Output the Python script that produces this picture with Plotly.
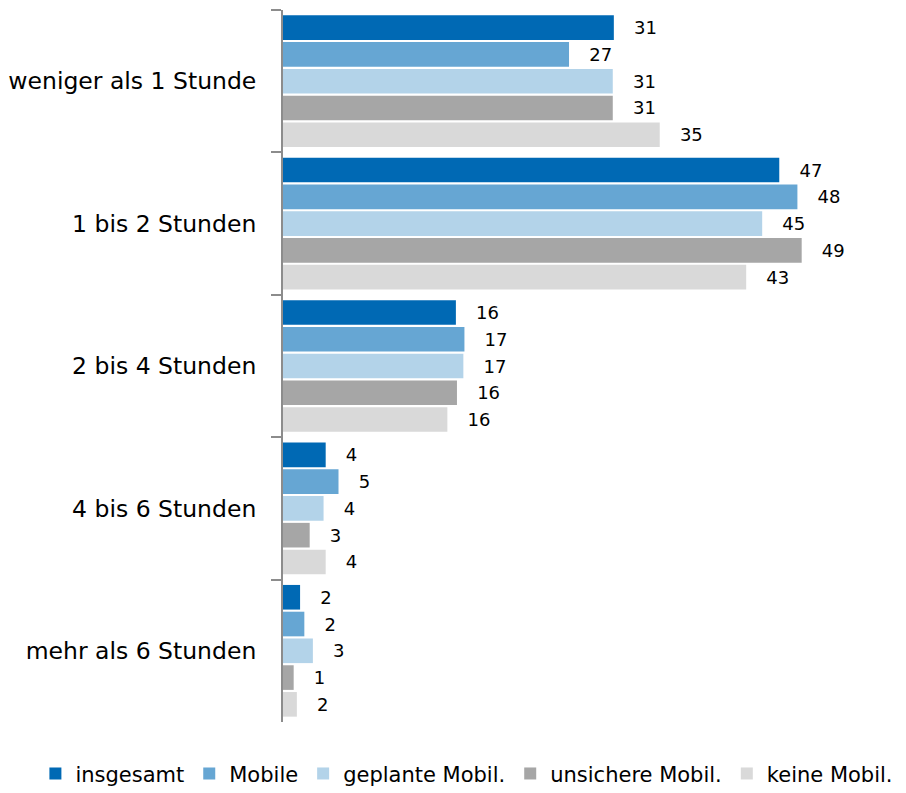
import plotly.graph_objects as go

# ==============================
# Data
# ==============================

categories = ["weniger als 1 Stunde", "1 bis 2 Stunden", "2 bis 4 Stunden",
              "4 bis 6 Stunden", "mehr als 6 Stunden"]

series_names = ["insgesamt", "Mobile", "geplante Mobil.", "unsichere Mobil.", "keine Mobil."]
series_colors = ["#0069b4", "#66a6d3", "#b3d3e9", "#a6a6a6", "#d9d9d9"]

# bar lengths and the rounded labels shown next to them
insgesamt = [31.0, 46.5, 16.2, 4.0, 1.6]
mobile = [26.8, 48.2, 17.0, 5.2, 2.0]
geplante = [30.9, 44.9, 16.9, 3.8, 2.8]
unsichere = [30.9, 48.6, 16.3, 2.5, 1.0]
keine = [35.3, 43.4, 15.4, 4.0, 1.3]

labels_insgesamt = [31, 47, 16, 4, 2]
labels_mobile = [27, 48, 17, 5, 2]
labels_geplante = [31, 45, 17, 4, 3]
labels_unsichere = [31, 49, 16, 3, 1]
labels_keine = [35, 43, 16, 4, 2]

values = [insgesamt, mobile, geplante, unsichere, keine]
labels = [labels_insgesamt, labels_mobile, labels_geplante, labels_unsichere, labels_keine]

# ==============================
# Figure
# ==============================

fig = go.Figure()
for name, color, vals, labs in zip(series_names, series_colors, values, labels):
    fig.add_trace(go.Bar(
        y=categories, x=vals, name=name, orientation="h",
        marker=dict(color=color, line=dict(width=0)),
        text=labs, texttemplate="   %{text}", textposition="outside",
        textfont=dict(size=18, color="black"), cliponaxis=False,
    ))

# page body has an 8px margin, so the figure is a bit smaller than the window
fig.update_layout(
    width=898, height=785,
    barmode="group", bargap=0.06, bargroupgap=0.08,
    plot_bgcolor="white", paper_bgcolor="white",
    font=dict(family="DejaVu Sans", color="black"),
    margin=dict(l=275, r=4, t=2, b=71, autoexpand=False),
    showlegend=True,
    # legend anchored left of the plot area so it may use the full width in one row
    legend=dict(orientation="h", xref="paper", x=-0.40, xanchor="left",
                yref="paper", y=-0.044, yanchor="top",
                font=dict(size=21), itemwidth=30, traceorder="normal",
                tracegroupgap=0),
)

fig.update_xaxes(range=[0, 58], visible=False)
fig.update_yaxes(
    autorange="reversed", showline=True, linecolor="#8c8c8c", linewidth=2,
    ticks="outside", tickson="boundaries", ticklen=10, tickcolor="#8c8c8c",
    tickwidth=2, tickfont=dict(size=23.5), showgrid=False, ticklabelstandoff=20,
    automargin=False,
)

fig.write_html("out.html")
